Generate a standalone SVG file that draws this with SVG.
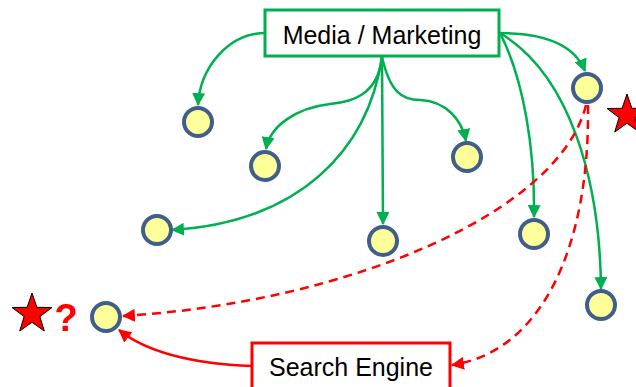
<svg xmlns="http://www.w3.org/2000/svg" width="636" height="387" viewBox="0 0 636 387">
  <defs>
    <marker id="arrowGreen" viewBox="0 0 12 12" refX="11" refY="6" markerWidth="13" markerHeight="13" markerUnits="userSpaceOnUse" orient="auto">
      <path d="M0,0 L12,6 L0,12 Z" fill="#00b050"/>
    </marker>
    <marker id="arrowRed" viewBox="0 0 12 12" refX="11" refY="6" markerWidth="13" markerHeight="13" markerUnits="userSpaceOnUse" orient="auto">
      <path d="M0,0 L12,6 L0,12 Z" fill="#ff0000"/>
    </marker>
    <polygon id="star" points="0,-21 4.9,-6.7 20,-6.5 7.9,2.6 12.3,17 0,8.3 -12.3,17 -7.9,2.6 -20,-6.5 -4.9,-6.7"/>
  </defs>
  <style>
    .box { fill: #ffffff; stroke-width: 3; }
    .label { font-family: "Liberation Sans", Arial, sans-serif; font-size: 25px; fill: #000000; text-anchor: middle; }
    .dot { fill: #ffff99; stroke: #3f5e8c; stroke-width: 4; }
    .green { fill: none; stroke: #00b050; stroke-width: 2.5; marker-end: url(#arrowGreen); }
    .red { fill: none; stroke: #ff0000; stroke-width: 2.5; marker-end: url(#arrowRed); }
    .dashed { stroke-dasharray: 9 6; }
    .star { fill: #ff0000; stroke: #000000; stroke-width: 1; }
  </style>

  <rect width="636" height="387" fill="#ffffff"/>

  <!-- connectors -->
  <g id="connectors">
    <path class="green" d="M266,33 C228,33 200,68 198,105"/>
    <path class="green" d="M382,57 C378,95 352,102 330,104 C296,108 270,126 266,149"/>
    <path class="green" d="M382,57 C368,150 300,222 172,230"/>
    <path class="green" d="M382,57 L383,224"/>
    <path class="green" d="M382,57 C390,92 402,100 420,100 C446,101 462,120 466,141"/>
    <path class="green" d="M500,33 C546,33 575,46 585,71"/>
    <path class="green" d="M500,33 C524,80 535,150 534,217"/>
    <path class="green" d="M500,33 C570,75 600,180 601,289"/>
    <path class="red dashed" d="M586,105 C560,212 350,302 123,316"/>
    <path class="red dashed" d="M588,105 C590,250 540,352 452,365"/>
    <path class="red" d="M252,366 C200,364 150,355 119,330"/>
  </g>

  <!-- source boxes -->
  <g id="media-marketing">
    <rect class="box" x="265" y="10" width="234" height="46" stroke="#00b050"/>
    <text class="label" x="382" y="44">Media / Marketing</text>
  </g>
  <g id="search-engine">
    <rect class="box" x="252" y="343" width="198" height="50" stroke="#ff0000"/>
    <text class="label" x="351" y="376">Search Engine</text>
  </g>

  <!-- audience nodes -->
  <g id="node-1"><circle class="dot" cx="198" cy="122" r="14"/></g>
  <g id="node-2"><circle class="dot" cx="265" cy="166" r="14"/></g>
  <g id="node-3"><circle class="dot" cx="467" cy="157" r="14"/></g>
  <g id="node-4"><circle class="dot" cx="157" cy="230" r="14"/></g>
  <g id="node-5"><circle class="dot" cx="383" cy="241" r="14"/></g>
  <g id="node-6"><circle class="dot" cx="534" cy="234" r="14"/></g>
  <g id="node-7"><circle class="dot" cx="587" cy="88" r="14"/></g>
  <g id="node-8"><circle class="dot" cx="601" cy="305" r="14"/></g>
  <g id="node-9"><circle class="dot" cx="106" cy="317" r="14"/></g>

  <!-- markers of interest -->
  <g id="star-right"><use href="#star" class="star" x="627" y="115"/></g>
  <g id="star-left">
    <use href="#star" class="star" x="32" y="314"/>
    <text x="66" y="331" font-family="Liberation Sans, Arial, sans-serif" font-size="38" font-weight="bold" fill="#ff0000" text-anchor="middle">?</text>
  </g>
</svg>
